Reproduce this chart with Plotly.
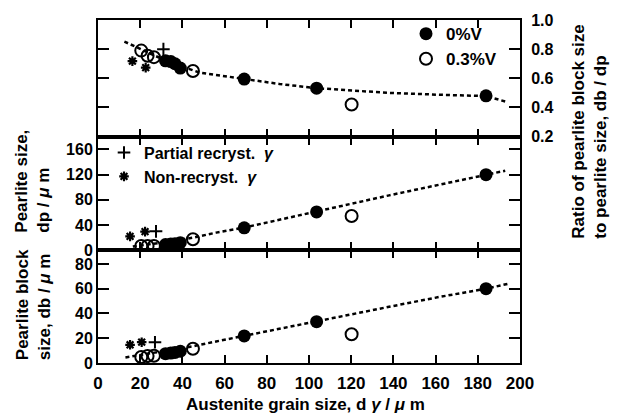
import plotly.graph_objects as go
from plotly.subplots import make_subplots

# ---------------- data ----------------
# 0%V (filled circles)
v0_x = [32, 34.5, 36.5, 39, 69.3, 103.6, 183.9]
v0_ratio = [0.72, 0.715, 0.70, 0.67, 0.595, 0.532, 0.48]
v0_dp = [9, 10, 10.5, 12, 35.6, 60.7, 119.7]
v0_db = [7.5, 8, 8.5, 9.5, 21.9, 33.4, 60]

# 0.3%V (open circles)
v3_x = [20.5, 23.5, 26.5, 45, 120.2]
v3_ratio = [0.79, 0.755, 0.745, 0.65, 0.42]
v3_dp = [6.7, 6.7, 6.7, 17.5, 54.4]
v3_db = [4.8, 5.6, 5.9, 11.5, 23.2]

# Partial recryst. gamma (+)
pr_x_top, pr_ratio = [31], [0.80]
pr_x_mid, pr_dp = [27.5], [30]
pr_x_bot, pr_db = [27], [16.8]

# Non-recryst. gamma (*)
nr_x_top, nr_ratio = [16.3, 22.6], [0.718, 0.673]
nr_x_mid, nr_dp = [15.2, 22.3], [22, 29.5]
nr_x_bot, nr_db = [15.2, 20.7], [14.7, 16.8]

# dashed fit curves
fit_top_x = [12.5, 20, 30, 40, 48, 59, 69.3, 86, 104, 138, 162, 184, 194]
fit_top_y = [0.852, 0.80, 0.735, 0.68, 0.64, 0.617, 0.595, 0.561, 0.532, 0.50, 0.487, 0.478, 0.437]
fit_mid_x = [16.5, 30, 45, 56, 69.3, 86, 103.6, 138, 162, 184, 193]
fit_mid_y = [6, 12, 20, 28, 36, 48.5, 61, 87, 104, 120, 126]
fit_bot_x = [13, 20, 30, 45, 56, 69.3, 86, 103.6, 138, 162, 184, 194.5]
fit_bot_y = [4.5, 6.5, 9, 13.5, 17.4, 22, 27.5, 33.5, 45.4, 53.4, 60, 64]

x_ticks = [0, 20, 40, 60, 80, 100, 120, 140, 160, 180, 200]
ratio_ticks = [0.2, 0.4, 0.6, 0.8, 1.0]
dp_ticks = [0, 40, 80, 120, 160]
db_ticks = [0, 20, 40, 60, 80]

# ---------------- figure ----------------
FONT = "Liberation Sans, Arial, sans-serif"
fig = make_subplots(rows=3, cols=1, shared_xaxes=True, vertical_spacing=0,
                    row_heights=[119, 116, 115])

filled = dict(symbol="circle", size=13, color="black")
openc = dict(symbol="circle-open", size=12, color="black", line=dict(width=2, color="black"))
plus = dict(symbol="cross-thin-open", size=9, color="black", line=dict(width=2, color="black"))
star = dict(symbol="asterisk-open", size=8, color="black", line=dict(width=2.2, color="black"))
dline = dict(color="black", width=2.5, dash="4px,3px")

panels = [
    (1, fit_top_x, fit_top_y, v0_ratio, v3_ratio, pr_x_top, pr_ratio, nr_x_top, nr_ratio),
    (2, fit_mid_x, fit_mid_y, v0_dp, v3_dp, pr_x_mid, pr_dp, nr_x_mid, nr_dp),
    (3, fit_bot_x, fit_bot_y, v0_db, v3_db, pr_x_bot, pr_db, nr_x_bot, nr_db),
]
for row, fx, fy, y0, y3, px, py, nx, ny in panels:
    fig.add_trace(go.Scatter(x=fx, y=fy, mode="lines", line=dline, showlegend=False,
                             hoverinfo="skip"), row=row, col=1)
    fig.add_trace(go.Scatter(x=v0_x, y=y0, mode="markers", marker=filled, name="0%V",
                             showlegend=(row == 1), legend="legend"), row=row, col=1)
    fig.add_trace(go.Scatter(x=v3_x, y=y3, mode="markers", marker=openc, name="0.3%V",
                             showlegend=(row == 1), legend="legend"), row=row, col=1)
    fig.add_trace(go.Scatter(x=px, y=py, mode="markers", marker=plus,
                             name="Partial recryst.  <i>γ</i>",
                             showlegend=(row == 2), legend="legend2"), row=row, col=1)
    fig.add_trace(go.Scatter(x=nx, y=ny, mode="markers", marker=star,
                             name="Non-recryst.  <i>γ</i>",
                             showlegend=(row == 2), legend="legend2"), row=row, col=1)

axis_common = dict(showline=True, linewidth=2, linecolor="black", mirror="ticks",
                   ticks="inside", tickwidth=2, tickcolor="black", showgrid=False,
                   zeroline=False,
                   tickfont=dict(family=FONT, size=16, color="black", weight="bold"))

for r in (1, 2, 3):
    fig.update_xaxes(range=[0, 200], tickvals=x_ticks, ticklen=8, **axis_common, row=r, col=1)
fig.update_xaxes(tickfont=dict(family=FONT, size=17, color="black", weight="bold"),
                 ticklabelstandoff=4, row=3, col=1)

fig.update_yaxes(range=[0.2, 1.0], tickvals=ratio_ticks, tickformat=".1f", side="right",
                 ticklen=11, ticklabelstandoff=6, **axis_common, row=1, col=1)
fig.update_yaxes(range=[0, 180], tickvals=dp_ticks, ticklen=11, **axis_common, row=2, col=1)
fig.update_yaxes(range=[0, 91], tickvals=db_ticks, ticklen=11, **axis_common, row=3, col=1)

L, R, T, B = 98, 106, 13, 54
W, H = 626, 417
PW, PH = W - L - R, H - T - B

def px2paper(x, y):
    return (x - L) / PW, (H - B - y) / PH

title_font = dict(family=FONT, size=17, color="black", weight="bold")
ann = []
ax, ay = px2paper(305, 405)
ann.append(dict(text="Austenite grain size, d <i>γ</i> / <i>μ</i> m", x=ax, y=ay,
                xref="paper", yref="paper", showarrow=False, font=title_font,
                xanchor="center", yanchor="middle"))
ax, ay = px2paper(33, 178)
ann.append(dict(text="Pearlite size,<br>dp / <i>μ</i> m", x=ax, y=ay, xref="paper",
                yref="paper", showarrow=False, font=title_font, textangle=-90,
                align="left", xanchor="center", yanchor="middle"))
ax, ay = px2paper(33, 304)
ann.append(dict(text="Pearlite block<br>size, db / <i>μ</i> m", x=ax, y=ay, xref="paper",
                yref="paper", showarrow=False, font=title_font, textangle=-90,
                align="left", xanchor="center", yanchor="middle"))
ax, ay = px2paper(590, 127)
ann.append(dict(text="Ratio of pearlite block size<br>to pearlite size, db / dp", x=ax, y=ay,
                xref="paper", yref="paper", showarrow=False, font=title_font, textangle=-90,
                align="left", xanchor="center", yanchor="middle"))

lx, ly = px2paper(406, 9)
l2x, l2y = px2paper(104, 131)
fig.update_layout(
    width=W, height=H, margin=dict(l=L, r=R, t=T, b=B),
    paper_bgcolor="white", plot_bgcolor="white",
    font=dict(family=FONT, color="black"),
    annotations=ann,
    legend=dict(x=lx, y=ly, xanchor="left", yanchor="top", bgcolor="rgba(0,0,0,0)",
                font=dict(family=FONT, size=17, color="black", weight="bold"),
                itemwidth=30, tracegroupgap=0),
    legend2=dict(x=l2x, y=l2y, xanchor="left", yanchor="top", bgcolor="rgba(0,0,0,0)",
                 font=dict(family=FONT, size=16, color="black", weight="bold"),
                 itemwidth=30, tracegroupgap=0),
)

fig.write_html("out.html", config={"displayModeBar": False},
               post_script="document.body.style.margin='0';")
